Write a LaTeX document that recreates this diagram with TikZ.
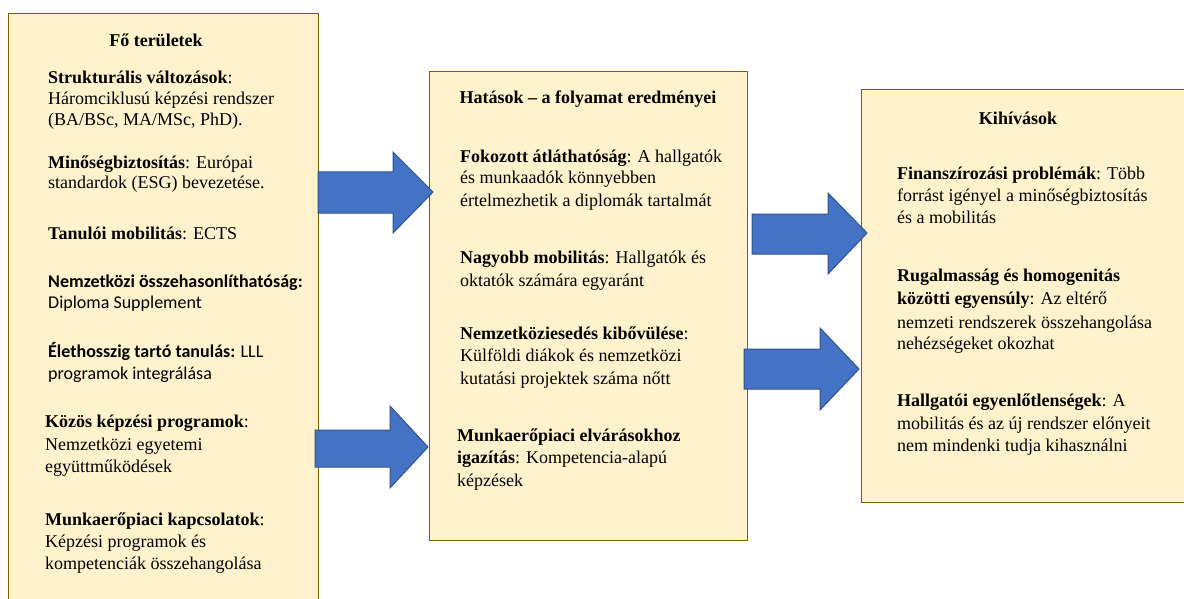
\documentclass[tikz,border=0pt]{standalone}
\usepackage{fontspec}
\setmainfont{Liberation Serif}
\newfontfamily\calibri{Carlito}
\begin{document}
\begin{tikzpicture}[x=1pt,y=-1pt,
  box/.style={draw=boxline,fill=boxfill,line width=1.3pt,anchor=north west,inner sep=0pt},
  txt/.style={anchor=base west,inner sep=0pt,font=\fontsize{18}{21}\selectfont,text=black},
  sanstxt/.style={txt,font=\calibri\fontsize{18}{21}\selectfont},
  ttl/.style={anchor=base,inner sep=0pt,font=\fontsize{18}{21}\selectfont\bfseries,text=black},
  blockarrow/.style={fill=arrowfill,draw=arrowline,line width=1pt,line join=miter}]
\definecolor{boxfill}{HTML}{FFF2CC}
\definecolor{boxline}{HTML}{7F6000}
\definecolor{arrowfill}{HTML}{4472C4}
\definecolor{arrowline}{HTML}{2F528F}
\useasboundingbox (0,0) rectangle (1184,599);
\clip (0,0) rectangle (1184,599);

% the three panels
\node[box,minimum width=310pt,minimum height=610pt] (areas) at (8,13) {};
\node[box,minimum width=318pt,minimum height=469pt] (effects) at (429,71) {};
\node[box,minimum width=330pt,minimum height=413pt] (challenges) at (861,89) {};

% block arrows between the panels
\draw[blockarrow] (318,172) -- (393,172) -- (393,152) -- (433,192) -- (393,233) -- (393,213) -- (318,213) -- cycle;
\draw[blockarrow] (315,430) -- (390,430) -- (390,406) -- (428,447) -- (390,488) -- (390,467) -- (315,467) -- cycle;
\draw[blockarrow] (752,214) -- (828,214) -- (828,193) -- (867,233) -- (828,274) -- (828,254) -- (752,254) -- cycle;
\draw[blockarrow] (744,349) -- (820,349) -- (820,328) -- (859,369) -- (820,410) -- (820,389) -- (744,389) -- cycle;

% left panel: main areas
\node[ttl] (t1) at (156,47) {Fő területek};
\node[txt] (a1) at (48,84) {\textbf{Strukturális változások}:};
\node[txt] (a2) at (48,105) {Háromciklusú képzési rendszer};
\node[txt] (a3) at (48,126) {(BA/BSc, MA/MSc, PhD).};
\node[txt] (b1) at (48,169) {\textbf{Minőségbiztosítás}: Európai};
\node[txt] (b2) at (48,189) {standardok (ESG) bevezetése.};
\node[txt] (c1) at (48,239) {\textbf{Tanulói mobilitás}: ECTS};
\node[sanstxt] (d1) at (48,287) {\textbf{Nemzetközi összehasonlíthatóság:}};
\node[sanstxt] (d2) at (48,308) {Diploma Supplement};
\node[sanstxt] (e1) at (48,357) {\textbf{Élethosszig tartó tanulás:} LLL};
\node[sanstxt] (e2) at (48,379) {programok integrálása};
\node[txt] (f1) at (45,427) {\textbf{Közös képzési programok}:};
\node[txt] (f2) at (45,450) {Nemzetközi egyetemi};
\node[txt] (f3) at (45,472) {együttműködések};
\node[txt] (g1) at (45,525) {\textbf{Munkaerőpiaci kapcsolatok}:};
\node[txt] (g2) at (45,547) {Képzési programok és};
\node[txt] (g3) at (45,569) {kompetenciák összehangolása};

% middle panel: effects
\node[ttl] (t2) at (588,104) {Hatások – a folyamat eredményei};
\node[txt] (h1) at (460,163) {\textbf{Fokozott átláthatóság}: A hallgatók};
\node[txt] (h2) at (460,184) {és munkaadók könnyebben};
\node[txt] (h3) at (460,206) {értelmezhetik a diplomák tartalmát};
\node[txt] (i1) at (460,263) {\textbf{Nagyobb mobilitás}: Hallgatók és};
\node[txt] (i2) at (460,286) {oktatók számára egyaránt};
\node[txt] (j1) at (460,339) {\textbf{Nemzetköziesedés kibővülése}:};
\node[txt] (j2) at (460,361) {Külföldi diákok és nemzetközi};
\node[txt] (j3) at (460,384) {kutatási projektek száma nőtt};
\node[txt] (k1) at (457,441) {\textbf{Munkaerőpiaci elvárásokhoz}};
\node[txt] (k2) at (457,463) {\textbf{igazítás}: Kompetencia-alapú};
\node[txt] (k3) at (457,486) {képzések};

% right panel: challenges
\node[ttl] (t3) at (1018,125) {Kihívások};
\node[txt] (m1) at (897,179) {\textbf{Finanszírozási problémák}: Több};
\node[txt] (m2) at (897,201) {forrást igényel a minőségbiztosítás};
\node[txt] (m3) at (897,223) {és a mobilitás};
\node[txt] (n1) at (897,281) {\textbf{Rugalmasság és homogenitás}};
\node[txt] (n2) at (897,304) {\textbf{közötti egyensúly}: Az eltérő};
\node[txt] (n3) at (897,328) {nemzeti rendszerek összehangolása};
\node[txt] (n4) at (897,349) {nehézségeket okozhat};
\node[txt] (o1) at (897,406) {\textbf{Hallgatói egyenlőtlenségek}: A};
\node[txt] (o2) at (897,429) {mobilitás és az új rendszer előnyeit};
\node[txt] (o3) at (897,451) {nem mindenki tudja kihasználni};
\end{tikzpicture}
\end{document}
